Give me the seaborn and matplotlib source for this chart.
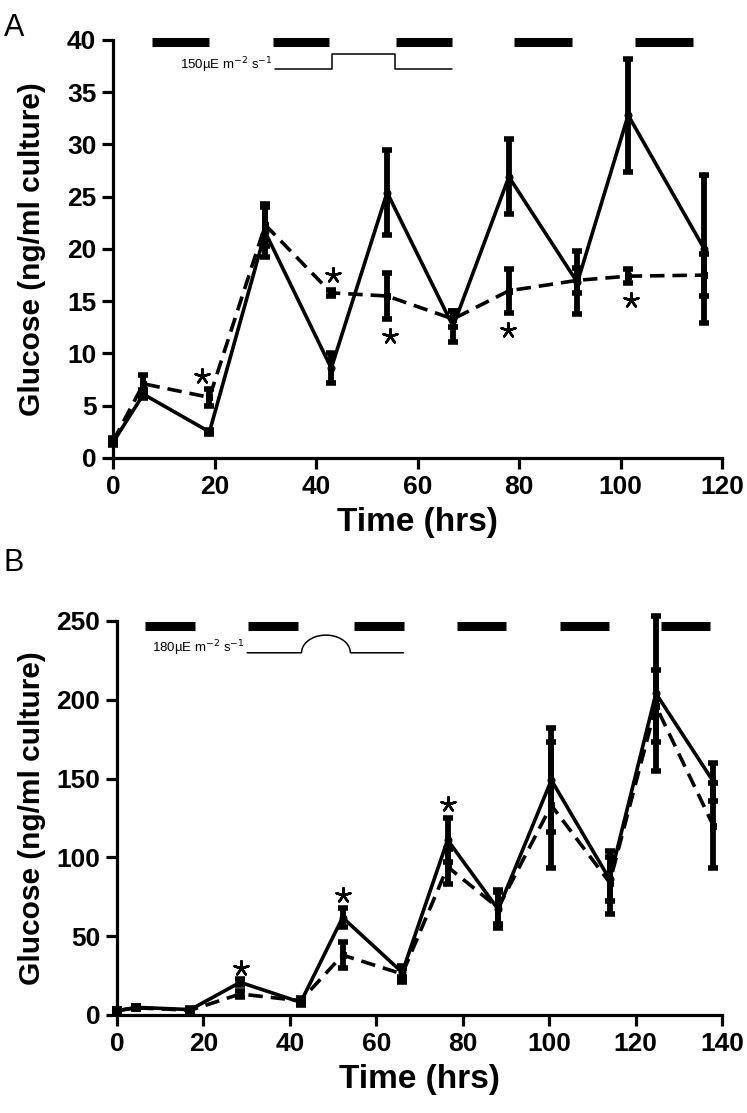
import numpy as np
import pandas as pd
import matplotlib
matplotlib.use('Agg')
import matplotlib.pyplot as plt
import seaborn as sns

# Panel A data (hrs, ng/ml culture)
a_time = [0, 6, 19, 30, 43, 54, 67, 78, 91.5, 101.5, 116.5]
a_solid = [1.5, 6.1, 2.5, 21.6, 8.6, 25.4, 12.6, 26.9, 16.8, 32.8, 20.0]
a_solid_err = [0.3, 0.4, 0.2, 2.4, 1.4, 4.1, 1.5, 3.6, 3.0, 5.4, 7.1]
a_dash = [1.6, 7.1, 5.8, 22.3, 15.8, 15.5, 13.3, 16.0, 17.0, 17.4, 17.5]
a_dash_err = [0.3, 0.8, 0.8, 2.0, 0.3, 2.2, 0.8, 2.1, 1.2, 0.7, 2.0]
a_dark_start = [7.7, 31.5, 55.7, 79.1, 102.9]
a_dark_end = [19.0, 42.6, 66.7, 90.4, 114.2]
a_star_x = [17.6, 43.3, 54.5, 77.8, 102.0]
a_star_y = [7.8, 17.5, 11.7, 12.2, 15.1]

# Panel B data
b_time = [0, 4.5, 17, 28.5, 42.5, 52.2, 66, 76.5, 88.2, 100.5, 114, 124.7, 138]
b_solid = [2.7, 4.8, 3.4, 20.7, 8.0, 61.8, 27, 111, 67, 149, 86, 204, 148]
b_solid_err = [1, 1, 1, 2, 2, 6, 3, 14, 12, 33, 14, 49, 12]
b_dash = [2.7, 4.5, 3.0, 13.3, 9.0, 38, 26, 94, 68, 133, 84, 196, 120]
b_dash_err = [1, 1, 1, 2, 2, 8, 5, 11, 10, 40, 20, 23, 27]
b_dark_start = [6.5, 30.4, 54.8, 78.6, 102.4, 125.8]
b_dark_end = [18.1, 41.9, 66.3, 90.1, 113.9, 137.2]
b_star_x = [28.6, 52.4, 76.7]
b_star_y = [30, 76, 134]

sns.set_theme(style='ticks')
plt.rcParams['font.family'] = ['Liberation Sans Narrow', 'Liberation Sans', 'DejaVu Sans']
plt.rcParams.update({
    'axes.linewidth': 2.3, 'axes.edgecolor': 'black', 'axes.labelcolor': 'black',
    'xtick.color': 'black', 'ytick.color': 'black', 'text.color': 'black',
})

fig = plt.figure(figsize=(7.47, 11.13), dpi=100)
ax_a = fig.add_axes([0.1513, 0.5885, 0.8153, 0.3756])
ax_b = fig.add_axes([0.1566, 0.0881, 0.8100, 0.3540])


def draw_panel(ax, t, solid, solid_err, dash, dash_err):
    df = pd.DataFrame({
        'time': list(t) * 2,
        'glucose': list(solid) + list(dash),
        'series': ['s1'] * len(t) + ['s2'] * len(t),
    })
    for y, e in [(solid, solid_err), (dash, dash_err)]:
        eb = ax.errorbar(t, y, yerr=e, fmt='none', ecolor='black', elinewidth=4.2,
                         capsize=3.5, capthick=4)
        for art in eb.get_children():
            art.set_clip_on(False)
    sns.lineplot(data=df, x='time', y='glucose', style='series', color='black',
                 dashes={'s1': '', 's2': (4.0, 2.2)},
                 markers={'s1': 'o', 's2': 's'}, markersize=5, linewidth=2.6,
                 markeredgecolor='black', estimator=None, sort=False, legend=False,
                 ax=ax, clip_on=False)


def style_axes(ax, xmax, ymax, ystep):
    ax.set_xlim(0, xmax)
    ax.set_ylim(0, ymax)
    ax.set_xticks(np.arange(0, xmax + 1, 20))
    ax.set_yticks(np.arange(0, ymax + 1, ystep))
    sns.despine(ax=ax)
    ax.tick_params(length=8, width=2.3, labelsize=19, pad=4)
    for lab in ax.get_xticklabels() + ax.get_yticklabels():
        lab.set_fontweight('bold')
    ax.set_xlabel('Time (hrs)', fontsize=24, fontweight='bold', labelpad=6)
    ax.set_ylabel('Glucose (ng/ml culture)', fontsize=21.5, fontweight='bold',
                  family=['Liberation Sans', 'DejaVu Sans'])
    # place the label's baseline side about 46 px from the figure's left edge
    box = ax.get_position()
    left_px = box.x0 * 747
    width_px = box.width * 747
    ax.yaxis.set_label_coords((46 - left_px) / width_px, 0.5)


def draw_stars(ax, xs, ys):
    ax.scatter(xs, ys, marker=(5, 2, 0), s=110, color='black', linewidths=1.8,
               clip_on=False, zorder=5)


# Panel A
draw_panel(ax_a, a_time, a_solid, a_solid_err, a_dash, a_dash_err)
style_axes(ax_a, 120, 40, 5)
ax_a.hlines([39.8] * len(a_dark_start), a_dark_start, a_dark_end, color='black',
            lw=6.5, clip_on=False)
ax_a.plot([31.9, 43.2, 43.2, 55.5, 55.5, 66.8],
          [37.2, 37.2, 38.7, 38.7, 37.2, 37.2], color='black', lw=1.1)
ax_a.text(31.5, 37.2, '150µE m$^{-2}$ s$^{-1}$', ha='right', va='baseline',
          fontsize=9.5)
draw_stars(ax_a, a_star_x, a_star_y)

# Panel B
draw_panel(ax_b, b_time, b_solid, b_solid_err, b_dash, b_dash_err)
style_axes(ax_b, 140, 250, 50)
ax_b.hlines([247] * len(b_dark_start), b_dark_start, b_dark_end, color='black',
            lw=6.5, clip_on=False)
arc_t = np.linspace(np.pi, 0, 40)
arc_x = 48.35 + 5.65 * np.cos(arc_t)
arc_y = 229.8 + 11.2 * np.sin(arc_t)
ax_b.plot(np.concatenate([[30.1], arc_x, [66.3]]),
          np.concatenate([[229.8], arc_y, [229.8]]), color='black', lw=1.1)
ax_b.text(29.6, 229.8, '180µE m$^{-2}$ s$^{-1}$', ha='right', va='baseline',
          fontsize=9.5)
draw_stars(ax_b, b_star_x, b_star_y)

fig.text(0.005, 0.988, 'A', fontsize=22, va='top',
         family=['Liberation Sans', 'DejaVu Sans'])
fig.text(0.005, 0.508, 'B', fontsize=22, va='top',
         family=['Liberation Sans', 'DejaVu Sans'])

fig.savefig('out.png', dpi=100)
